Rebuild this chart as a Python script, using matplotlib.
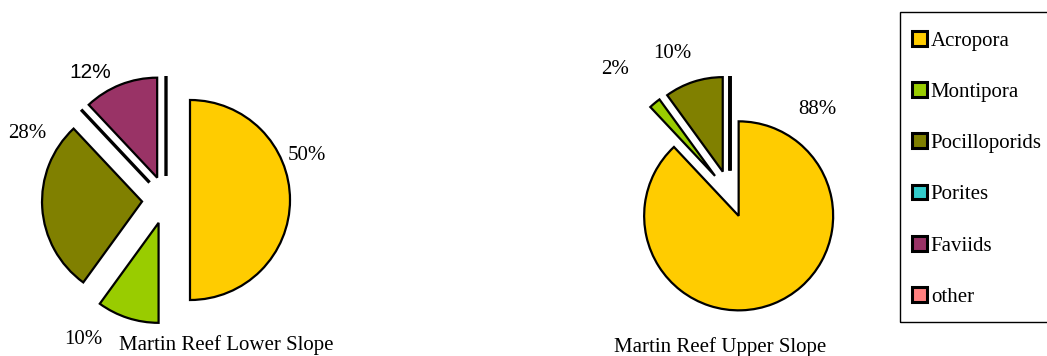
import matplotlib
matplotlib.use("Agg")
import matplotlib.pyplot as plt
from matplotlib.patches import Rectangle

# coral groups and their share of cover (%) at each site
species = ["Acropora", "Montipora", "Pocilloporids", "Porites", "Faviids", "other"]
colors = ["#FFCC00", "#99CC00", "#808000", "#33CCCC", "#993366", "#FF8080"]
lower_slope = [50, 10, 28, 0, 12, 0]
upper_slope = [88, 2, 10, 0, 0, 0]
titles = ["Martin Reef Lower Slope", "Martin Reef Upper Slope"]

W, H = 1047, 356
plt.rcParams["font.family"] = ["Liberation Serif", "DejaVu Serif"]
FS = 15


def px(x, y):
    # pixel position (from top-left) -> data coords
    return x, H - y


fig = plt.figure(figsize=(W / 100, H / 100), dpi=100)
ax = fig.add_axes([0, 0, 1, 1])


def draw_pie(values, center, radius, explode, label_pos, title, title_pos):
    wedges, _ = ax.pie(values, colors=colors, startangle=90, counterclock=False,
                       explode=[explode] * len(values), radius=radius,
                       center=px(*center), frame=True,
                       wedgeprops=dict(edgecolor="black", linewidth=1.6))
    for v, w in zip(values, wedges):
        if v == 0:
            w.set_linewidth(2.4)  # empty slices show up as a thick spoke
    for v, pos in zip(values, label_pos):
        if v == 0 or pos is None:
            continue
        xy, fam = pos
        ax.text(*px(*xy), "%d%%" % v, ha="center", va="center", fontsize=FS,
                family=fam)
    ax.text(*px(*title_pos), title, ha="center", va="center", fontsize=FS)
    return wedges


serif = ["Liberation Serif", "DejaVu Serif"]
sans = ["Liberation Sans", "DejaVu Sans"]

lower_lbl = [((307, 155), serif), ((83, 340), serif), ((27, 133), serif),
             None, ((90, 73), sans), None]
upper_lbl = [((817, 110), serif), ((615, 69), serif), ((672, 54), serif),
             None, None, None]

wedges = draw_pie(lower_slope, (166, 200), 100, 24, lower_lbl, titles[0], (226, 345))
draw_pie(upper_slope, (730, 194), 94.5, 23.5, upper_lbl, titles[1], (720, 347))

ax.set_xlim(0, W)
ax.set_ylim(0, H)
ax.set_aspect("auto")
ax.axis("off")

# legend box runs off the right edge, like the original
ax.add_patch(Rectangle(px(900, 322), 200, 310, facecolor="none",
                       edgecolor="black", linewidth=1.0))

leg = fig.legend(wedges, species, loc="upper left",
                 bbox_to_anchor=(912 / W, 1 - 31 / H), borderaxespad=0,
                 frameon=False, borderpad=0,
                 handlelength=0.7, handleheight=0.7, handletextpad=0.2,
                 labelspacing=1.52, fontsize=FS)
for h in leg.legend_handles:
    h.set_linewidth(2.2)

fig.savefig("out.png", dpi=100)
